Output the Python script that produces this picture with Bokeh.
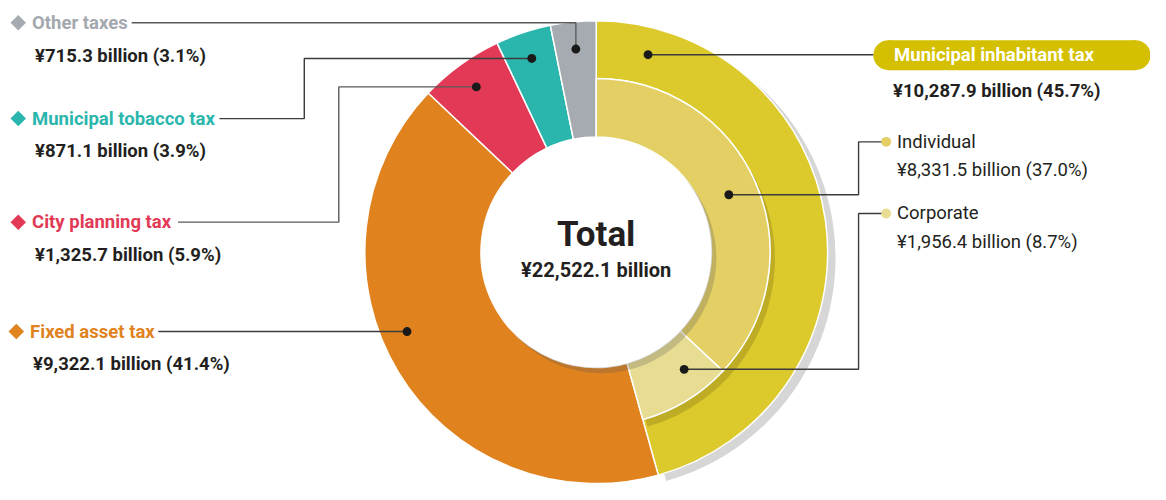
import numpy as np
from bokeh.plotting import figure
from bokeh.models import Range1d
from bokeh.core.properties import value
from bokeh.embed import file_html
from bokeh.resources import INLINE

# ---------------- data ----------------
categories = ["Municipal inhabitant tax", "Fixed asset tax", "City planning tax",
              "Municipal tobacco tax", "Other taxes"]
values = [10287.9, 9322.1, 1325.7, 871.1, 715.3]          # ¥ billion
shares = [45.7, 41.4, 5.9, 3.9, 3.1]                       # %
sub_categories = ["Individual", "Corporate"]
sub_values = [8331.5, 1956.4]
sub_shares = [37.0, 8.7]
total_value = 22522.1

# ---------------- style ----------------
colors = ["#dcc92c", "#e0831f", "#e23a56", "#2bb6ad", "#a6abb1"]
label_colors = ["#ffffff", "#e0831f", "#e23a56", "#2bb6ad", "#a3a8ae"]
sub_colors = ["#e3cf63", "#e8dc92"]
FONT = value("Roboto")
DARK = "#231f20"
FS = "18.5px"

W, H = 1150, 484
SX, SY = W / 1166, H / 500
ASP = SX / SY          # data-y units per data-x unit for round shapes

def Y(py):
    return 500 - py

K = 0.99
CX, CY = 604, Y(260)
R_OUT, R_MID, R_IN = 237 * K, 178 * K, 118 * K

p = figure(width=W, height=H, x_range=Range1d(0, 1166), y_range=Range1d(0, 500),
           output_backend="svg", toolbar_location=None, min_border=0,
           x_axis_location=None, y_axis_location=None, background_fill_color="white")
p.grid.visible = False
p.outline_line_color = None

# angles (clockwise from 12 o'clock)
cum = np.concatenate([[0.0], np.cumsum(values)]) / total_value * 2 * np.pi
starts = np.pi / 2 - cum[:-1]
ends = np.pi / 2 - cum[1:]
sub_cum = np.concatenate([[0.0], np.cumsum(sub_values)]) / total_value * 2 * np.pi
sub_starts = np.pi / 2 - sub_cum[:-1]
sub_ends = np.pi / 2 - sub_cum[1:]

# drop shadow of main slice
p.annular_wedge(x=CX + 8, y=CY - 6, inner_radius=160, outer_radius=R_OUT,
                start_angle=starts[0], end_angle=ends[0], direction="clock",
                fill_color="#d6d6d6", line_color=None)
# main slice outer ring
p.annular_wedge(x=CX, y=CY, inner_radius=R_MID, outer_radius=R_OUT,
                start_angle=starts[0], end_angle=ends[0], direction="clock",
                fill_color=colors[0], line_color="white", line_width=1.5)
# shadow cast by inner ring
p.annular_wedge(x=CX + 5, y=CY - 7, inner_radius=R_IN, outer_radius=R_MID,
                start_angle=starts[0], end_angle=ends[0], direction="clock",
                fill_color="#3a3300", fill_alpha=0.18, line_color=None)
# other slices
for i in range(1, len(values)):
    p.annular_wedge(x=CX, y=CY, inner_radius=R_IN, outer_radius=R_OUT,
                    start_angle=starts[i], end_angle=ends[i], direction="clock",
                    fill_color=colors[i], line_color="white", line_width=1.5)
# inner ring
for i in range(len(sub_values)):
    p.annular_wedge(x=CX, y=CY, inner_radius=R_IN, outer_radius=R_MID,
                    start_angle=sub_starts[i], end_angle=sub_ends[i], direction="clock",
                    fill_color=sub_colors[i], line_color="white", line_width=1.5)
# hole shadow and hole
p.circle(x=CX + 5, y=CY - 6, radius=R_IN, fill_color="#555555", fill_alpha=0.25, line_color=None)
p.circle(x=CX, y=CY, radius=R_IN, fill_color="white", line_color=None)

# center text
p.text(x=[CX], y=[Y(242)], text=["Total"], text_font=FONT, text_font_style="bold",
       text_font_size="35px", text_align="center", text_baseline="middle", text_color=DARK)
p.text(x=[CX], y=[Y(278)], text=["¥{:,.1f} billion".format(total_value)], text_font=FONT,
       text_font_style="bold", text_font_size="20px", text_align="center",
       text_baseline="middle", text_color=DARK)

def fmt(v, s):
    return "¥{:,.1f} billion ({:.1f}%)".format(v, s)

LINE = "#3c3c3c"
DOT_R = 4.5

def dot_on_ring(angle, r):
    return CX + r * np.cos(angle), CY + r * ASP * np.sin(angle)

def dot_at_y(py, r, side):
    dy_screen = (Y(py) - CY) * SY
    dx_screen = np.sqrt((r * SX) ** 2 - dy_screen ** 2)
    return CX + side * dx_screen / SX, Y(py)

# ---- left labels: (index, label y, value y, line start x, diamond x)
left = [(4, 23, 57, 133, 18), (3, 122, 155, 222, 18), (2, 229, 263, 180, 18), (1, 342, 375, 160, 16)]
for idx, ly, vy, lx, dx in left:
    p.scatter(x=[dx], y=[Y(ly)], marker="square", angle=np.pi / 4, size=11,
              fill_color=colors[idx], line_color=None)
    p.text(x=[dx + 14], y=[Y(ly)], text=[categories[idx]], text_font=FONT, text_font_style="bold",
           text_font_size=FS, text_baseline="middle", text_color=label_colors[idx])
    p.text(x=[dx + 17], y=[Y(vy)], text=[fmt(values[idx], shares[idx])], text_font=FONT,
           text_font_style="bold", text_font_size=FS, text_baseline="middle", text_color=DARK)
    if idx == 1:
        x0, y0 = dot_at_y(ly, 208, -1)
        xs, ys = [lx, x0], [Y(ly), y0]
    else:
        mid = (starts[idx] + ends[idx]) / 2
        x0, y0 = dot_on_ring(mid, 207)
        if idx == 4:
            xs, ys = [lx, x0, x0], [Y(ly), Y(ly), y0]
        elif idx == 3:
            xs, ys = [lx, 308, 308, x0], [Y(ly), Y(ly), y0, y0]
        else:
            xs, ys = [lx, 343, 343, x0], [Y(ly), Y(ly), y0, y0]
    p.line(x=xs, y=ys, line_color="#5a5a5a" if idx in (4, 2) else LINE, line_width=1.4)
    p.circle(x=[x0], y=[y0], radius=DOT_R, fill_color="#1a1a1a", line_color=None)

# ---- main category (right, pill)
px0, px1, py_c, ph = 885, 1166, Y(56.5), 31
p.rect(x=[(px0 + ph / 2 + px1 - ph / 2) / 2], y=[py_c], width=px1 - px0 - ph, height=ph,
       fill_color="#d4c000", line_color=None)
p.ellipse(x=[px0 + ph / 2, px1 - ph / 2], y=[py_c, py_c], width=ph, height=ph,
          fill_color="#d4c000", line_color=None)
x0, y0 = dot_at_y(56, 207, 1)
p.line(x=[x0, px0], y=[y0, y0], line_color=LINE, line_width=1.4)
p.circle(x=[x0], y=[y0], radius=DOT_R, fill_color="#1a1a1a", line_color=None)
p.text(x=[906], y=[py_c], text=[categories[0]], text_font=FONT, text_font_style="bold",
       text_font_size=FS, text_baseline="middle", text_color="white")
p.text(x=[905], y=[Y(94)], text=[fmt(values[0], shares[0])], text_font=FONT,
       text_font_style="bold", text_font_size=FS, text_baseline="middle", text_color=DARK)

# ---- sub categories
r_sub = (R_IN + R_MID) / 2
sub_layout = [(146, 175), (220, 249)]
for i, (ly, vy) in enumerate(sub_layout):
    if i == 0:
        mid = (sub_starts[i] + sub_ends[i]) / 2
        x0, y0 = dot_on_ring(mid, r_sub)
    else:
        x0, y0 = dot_at_y(381, r_sub + 2, 1)
    p.line(x=[x0, 870, 870, 898], y=[y0, y0, Y(ly), Y(ly)], line_color=LINE, line_width=1.4)
    p.circle(x=[x0], y=[y0], radius=DOT_R, fill_color="#1a1a1a", line_color=None)
    p.circle(x=[898], y=[Y(ly)], radius=5, fill_color=sub_colors[i], line_color=None)
    p.text(x=[909], y=[Y(ly)], text=[sub_categories[i]], text_font=FONT,
           text_font_size=FS, text_baseline="middle", text_color=DARK)
    p.text(x=[909], y=[Y(vy)], text=[fmt(sub_values[i], sub_shares[i])], text_font=FONT,
           text_font_size=FS, text_baseline="middle", text_color=DARK)

open("out.html", "w").write(file_html(p, INLINE))
